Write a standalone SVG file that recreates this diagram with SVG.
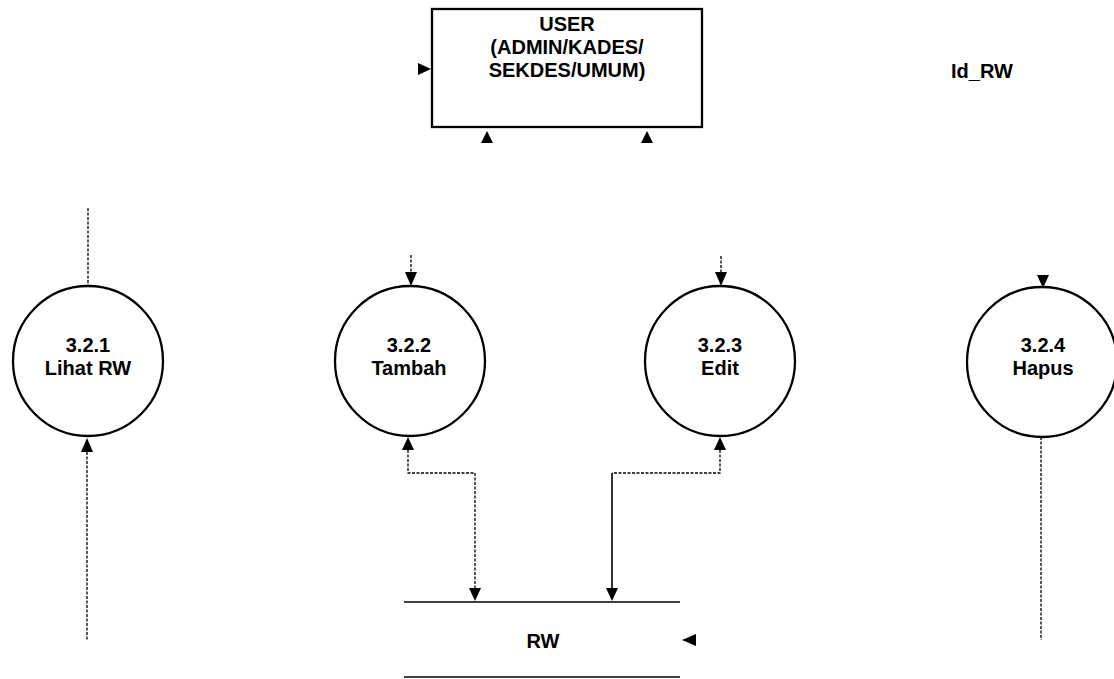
<svg xmlns="http://www.w3.org/2000/svg" width="1114" height="679" viewBox="0 0 1114 679">
<style>
.t{font-family:"Liberation Sans",Arial,sans-serif;font-weight:bold;font-size:20px;fill:#000;text-anchor:middle}
.shape{fill:#fff;stroke:#000;stroke-width:2.3}
.dot{fill:none;stroke:#000;stroke-width:1.3;stroke-dasharray:3 1.5}
.sol{fill:none;stroke:#000;stroke-width:1.6}
.ah{fill:#000}
</style>
<rect width="1114" height="679" fill="#fff"/>
<g id="connectors">
  <line class="dot" x1="88" y1="208" x2="88" y2="286"/>
  <line class="dot" x1="87" y1="452" x2="87" y2="640"/>
  <polygon class="ah" points="87,438 81,452 93,452"/>
  <line class="dot" x1="411" y1="255" x2="411" y2="273"/>
  <polygon class="ah" points="411,286 405,272 417,272"/>
  <line class="dot" x1="721" y1="256" x2="721" y2="273"/>
  <polygon class="ah" points="721,286 715,272 727,272"/>
  <polygon class="ah" points="1043,288 1037,275 1049,275"/>
  <line class="dot" x1="1041" y1="437" x2="1041" y2="640"/>
  <polygon class="ah" points="408,437 402,450 414,450"/>
  <polyline class="dot" points="408,450 408,473 475,473 475,589"/>
  <polygon class="ah" points="475,601 469,588 481,588"/>
  <polygon class="ah" points="720,437 714,450 726,450"/>
  <polyline class="dot" points="720,450 720,473 612,473"/>
  <line class="sol" x1="612" y1="473" x2="612" y2="589"/>
  <polygon class="ah" points="612,601 606,588 618,588"/>
  <polygon class="ah" points="431,69 418,63 418,75"/>
  <polygon class="ah" points="487,131 481,143 493,143"/>
  <polygon class="ah" points="647,131 641,143 653,143"/>
  <polygon class="ah" points="682,640 696,634 696,646"/>
</g>
<g id="user">
  <rect class="shape" x="432" y="9" width="270" height="118"/>
  <text class="t" x="567" y="31">USER</text>
  <text class="t" x="567" y="54">(ADMIN/KADES/</text>
  <text class="t" x="567" y="77">SEKDES/UMUM)</text>
</g>
<g id="label-idrw">
  <text class="t" x="982" y="78">Id_RW</text>
</g>
<g id="p321">
  <circle class="shape" cx="88" cy="361" r="75"/>
  <text class="t" x="88" y="352">3.2.1</text>
  <text class="t" x="88" y="375">Lihat RW</text>
</g>
<g id="p322">
  <circle class="shape" cx="410" cy="361" r="75"/>
  <text class="t" x="409" y="352">3.2.2</text>
  <text class="t" x="409" y="375">Tambah</text>
</g>
<g id="p323">
  <circle class="shape" cx="720" cy="361" r="75"/>
  <text class="t" x="720" y="352">3.2.3</text>
  <text class="t" x="720" y="375">Edit</text>
</g>
<g id="p324">
  <circle class="shape" cx="1042" cy="362" r="75"/>
  <text class="t" x="1043" y="352">3.2.4</text>
  <text class="t" x="1043" y="375">Hapus</text>
</g>
<g id="rw">
  <line class="sol" x1="404" y1="602" x2="680" y2="602"/>
  <line class="sol" x1="404" y1="677" x2="680" y2="677"/>
  <text class="t" x="543" y="648">RW</text>
</g>
</svg>
